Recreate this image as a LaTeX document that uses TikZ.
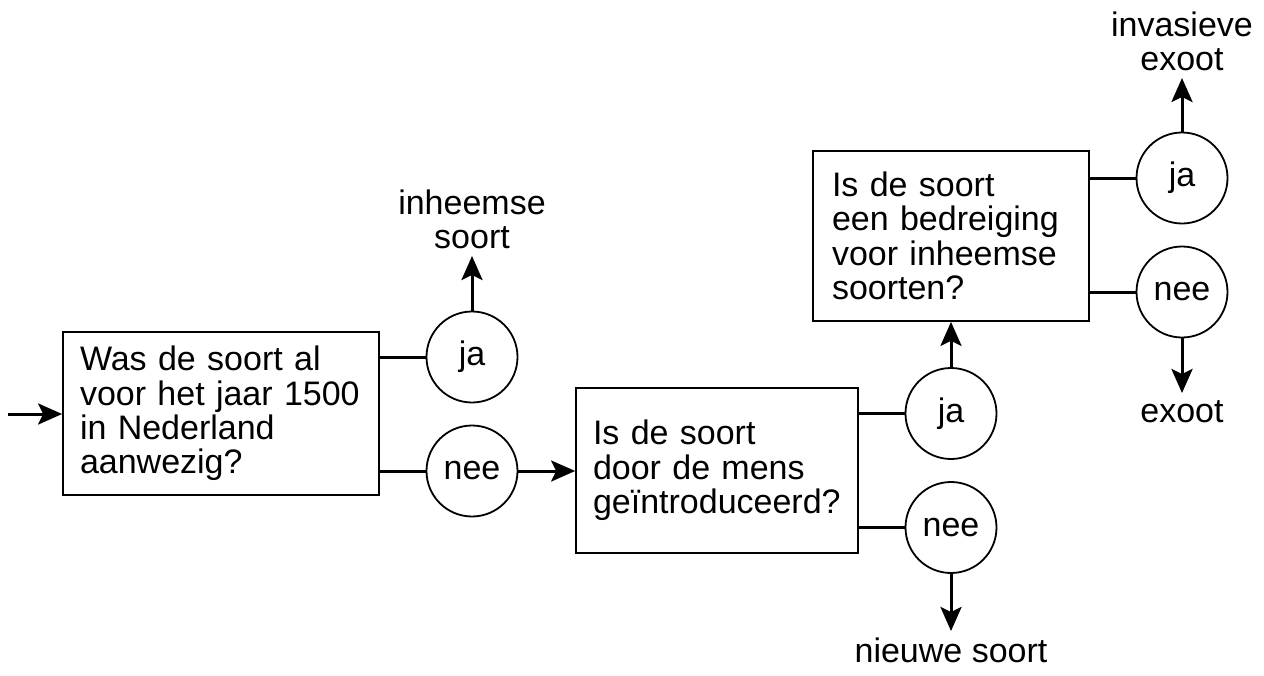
\documentclass[tikz,border=0pt]{standalone}
\usepackage{fontspec}
\setmainfont{Liberation Sans}
\usetikzlibrary{arrows.meta}

\begin{document}
\begin{tikzpicture}[x=0.5pt, y=-0.5pt,
    >={Stealth[length=12pt, width=10.5pt, inset=2.5pt]},
    font=\fontsize{17}{17.2}\selectfont,
    vraag/.style={draw, line width=0.85pt, align=left, inner xsep=9.5pt, inner ysep=2pt},
    keuze/.style={circle, draw, line width=0.9pt, minimum size=45.5pt, inner sep=0pt},
    uitkomst/.style={align=center},
    lijn/.style={line width=1.5pt}]
    \useasboundingbox (0,0) rectangle (1264,675);

    % Vragen
    \node[vraag, text width=141pt, inner xsep=8.5pt, minimum height=81.5pt] (V1) at (221, 413.5)
        {Was de soort al\\voor het jaar 1500\\in Nederland\\aanwezig?};
    \node[vraag, text width=124pt, inner xsep=8.5pt, minimum height=82.5pt] (V2) at (717, 470.5)
        {Is de soort\\door de mens\\geïntroduceerd?};
    \node[vraag, text width=119pt, minimum height=85pt] (V3) at (951, 236)
        {Is de soort\\een bedreiging\\voor inheemse\\soorten?};

    % Antwoorden
    \node[keuze] (ja1) at (472, 357) {ja};
    \node[keuze] (nee1) at (472, 471) {nee};
    \node[keuze] (ja2) at (951, 413.5) {ja};
    \node[keuze] (nee2) at (951, 527.5) {nee};
    \node[keuze] (ja3) at (1182, 178) {ja};
    \node[keuze] (nee3) at (1182, 292) {nee};

    % Uitkomsten
    \node[uitkomst, anchor=south] (inheems) at (472, 256) {inheemse\\soort};
    \node[uitkomst, anchor=north] (nieuw) at (951, 631) {nieuwe soort};
    \node[uitkomst, anchor=south] (invasief) at (1182, 78) {invasieve\\exoot};
    \node[uitkomst, anchor=north] (exoot) at (1182, 393) {exoot};
    \coordinate (start) at (8, 414);

    % Verbindingen
    \draw[lijn, ->] (start) -- (start -| V1.west);
    \draw[lijn] (V1.east |- ja1) -- (ja1);
    \draw[lijn] (V1.east |- nee1) -- (nee1);
    \draw[lijn, ->] (ja1) -- (inheems);
    \draw[lijn, ->] (nee1) -- (nee1 -| V2.west);
    \draw[lijn] (V2.east |- ja2) -- (ja2);
    \draw[lijn] (V2.east |- nee2) -- (nee2);
    \draw[lijn, ->] (ja2) -- (V3);
    \draw[lijn, ->] (nee2) -- (nieuw);
    \draw[lijn] (V3.east |- ja3) -- (ja3);
    \draw[lijn] (V3.east |- nee3) -- (nee3);
    \draw[lijn, ->] (ja3) -- (invasief);
    \draw[lijn, ->] (nee3) -- (exoot);
\end{tikzpicture}
\end{document}
